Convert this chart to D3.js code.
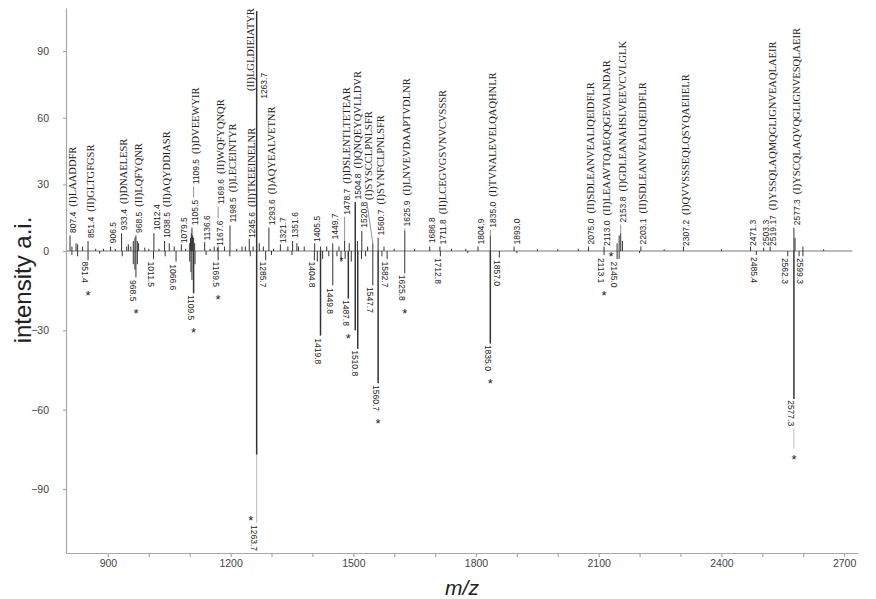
<!DOCTYPE html>
<html>
<head>
<meta charset="utf-8">
<script src="https://cdn.jsdelivr.net/npm/d3@7"></script>
<style>
  body { margin: 0; background: #fff; }
  svg { display: block; }
</style>
</head>
<body>
<svg id="canvas" width="876" height="599"></svg>
<script>
// upper trace (positive intensities)
const posMz  = [807.4, 812, 822, 826, 838, 851.4, 870, 889, 906.5, 918, 933.4, 946, 950, 956, 962, 966, 968.5, 972, 975, 990, 1000, 1012.4, 1025, 1038.5, 1050, 1062, 1079.5, 1090, 1100, 1102, 1104, 1105.5, 1107, 1109.5, 1112, 1136.6, 1150, 1160, 1167.6, 1169.6, 1185, 1198.5, 1215, 1228, 1236, 1245.6, 1255, 1263.7, 1270, 1280, 1293.6, 1305, 1321.7, 1340, 1351.6, 1362, 1366, 1380, 1405.5, 1420, 1435, 1449.7, 1465, 1478.7, 1490, 1504.8, 1510, 1520.8, 1535, 1547.7, 1560.7, 1575, 1600, 1625.9, 1650, 1686.8, 1711.8, 1740, 1775, 1804.9, 1835.0, 1893.0, 1950, 2000, 2050, 2075.0, 2113.0, 2145, 2150, 2153.8, 2158, 2203.1, 2260, 2307.2, 2400, 2471.3, 2503.3, 2519.17, 2577.3, 2580, 2599.3, 2650]
const posInt = [7, 2, 3.5, 3, 2, 4.5, 1, 1, 2, 1, 8, 2, 3, 2, 4.5, 6, 7, 4.5, 3.5, 1.5, 1, 8, 1, 4.5, 3.5, 2, 3, 1, 3.5, 6, 8, 10.5, 7, 6, 3.5, 4, 1, 2, 1.5, 2, 2, 11.5, 1, 2, 2, 5.5, 2, 108, 3.5, 2, 10.5, 1, 3, 2, 4.5, 3.5, 2, 2, 3.5, 2, 2, 3.5, 2, 4.5, 3.5, 22, 4.5, 9, 2, 3.5, 6, 2, 1, 9, 1, 2, 2, 1, 1, 2, 7, 2, 0.8, 0.8, 1, 2, 2, 3.5, 7, 8, 4.5, 2, 0.8, 2, 0.8, 2, 1.5, 2, 10.5, 6, 2, 0.8]

// lower trace (negative intensities)
const negMz  = [812, 826, 851.4, 880, 935, 962, 966, 968.5, 972, 1011.5, 1040, 1066.6, 1100, 1103, 1105.5, 1109.5, 1113, 1140, 1169.5, 1198, 1248, 1263.7, 1285.7, 1300, 1350, 1404.8, 1412, 1419.8, 1425, 1440, 1449.8, 1460, 1470, 1480, 1487.8, 1495, 1504.8, 1510.8, 1520, 1530, 1547.7, 1560.7, 1570, 1582.7, 1625.8, 1712.8, 1780, 1835.0, 1857.0, 1900, 2113.1, 2145.0, 2150, 2200, 2485.4, 2562.3, 2577.3, 2590, 2599.3]
const negInt = [-1.5, -2, -3.5, -1, -2, -5, -7, -10, -5, -3, -2, -4, -4, -8, -11, -16, -5, -1.5, -3.5, -2, -2, -77, -3.5, -1.5, -1.5, -3.5, -4, -32, -3, -2, -13, -2, -4, -3, -18, -4, -30, -37, -3, -2, -13, -50, -2, -3, -8.5, -2, -0.8, -35, -2.5, -0.8, -1.5, -3, -3, -0.8, -1.5, -2, -56, -2, -2]

// peptide annotations on the upper trace
const topLabelMz = [807.4, 851.4, 906.5, 933.4, 968.5, 1012.4, 1038.5, 1079.5, 1105.5, 1109.5, 1136.6, 1167.6, 1169.6, 1198.5, 1245.6, 1263.7, 1293.6, 1321.7, 1351.6, 1405.5, 1449.7, 1478.7, 1504.8, 1520.8, 1547.7, 1560.7, 1625.9, 1686.8, 1711.8, 1804.9, 1835.0, 1893.0, 2075.0, 2113.0, 2153.8, 2203.1, 2307.2, 2471.3, 2503.3, 2519.17, 2577.3]
const topLabelNum = ['807.4', '851.4', '906.5', '933.4', '968.5', '1012.4', '1038.5', '1079.5', '1105.5', '1109.5', '1136.6', '1167.6', '1169.6', '1198.5', '1245.6', '1263.7', '1293.6', '1321.7', '1351.6', '1405.5', '1449.7', '1478.7', '1504.8', '1520.8', '', '1560.7', '1625.9', '1686.8', '1711.8', '1804.9', '1835.0', '1893.0', '2075.0', '2113.0', '2153.8', '2203.1', '2307.2', '2471.3', '2503.3', '2519.17', '2577.3']
const topLabelName = ['(I)LAADDFR', '(II)GLTGFGSR', '', '(I)DNAELESR', '(II)LQFYQNR', '', '(II)AQYDDIASR', '', '', '(I)DVEEWYIR', '', '', '(II)WQFYQNQR', '(I)LECEINTYR', '(II)TKEEINELNR', '(II)LGLDIEIATYR', '(I)AQYEALVETNR', '', '', '', '', '(I)DSLENTLTETEAR', '(I)QNQEYQVLLDVR', '', '(I)SYSCCLPNLSFR', '(I)SYNFCLPNLSFR', '(I)LNVEVDAAPTVDLNR', '', '(II)LCEGVGSVNVCVSSSR', '', '(I)TVNALEVELQAQHNLR', '', '(II)SDLEANVEALIQEIDFLR', '(II)LEAAVTQAEQQGEVALNDAR', '(I)GDLEANAHSLVEEVCVLGLK', '(II)SDLEANVEALIQEIDFLR', '(I)QVVSSSEQLQSYQAEIIELR', '', '', '(I)YSSQLAQMQGLIGNVEAQLAEIR', '(I)YSCQLAQVQGLIGNVESQLAEIR']

// annotations on the lower trace (star = marked peak)
const botLabelMz = [851.4, 968.5, 1011.5, 1066.6, 1109.5, 1169.5, 1263.7, 1285.7, 1404.8, 1419.8, 1449.8, 1476.0, 1487.8, 1510.8, 1547.7, 1560.7, 1582.7, 1625.8, 1712.8, 1835.0, 1857.0, 2113.1, 2145.0, 2485.4, 2562.3, 2577.3, 2599.3]
const botLabelNum = ['851.4', '968.5', '1011.5', '1066.6', '1109.5', '1169.5', '1263.7', '1285.7', '1404.8', '1419.8', '1449.8', '', '1487.8', '1510.8', '1547.7', '1560.7', '1582.7', '1625.8', '1712.8', '1835.0', '1857.0', '2113.1', '2145.0', '2485.4', '2562.3', '2577.3', '2599.3']
const botLabelStar = [1, 1, 0, 0, 1, 1, 1, 0, 0, 0, 0, 1, 1, 0, 0, 1, 0, 1, 0, 1, 0, 1, 1, 0, 0, 1, 0]

const xTicks = [900, 1200, 1500, 1800, 2100, 2400, 2700]
const yTicks = [-90, -60, -30, 0, 30, 60, 90]

// label placement (where each label starts, in intensity units)
const topLift = [8.1, 5.8, 3.5, 9.3, 8.1, 9.3, 5.8, 3.5, 11.6, 30, 4.7, 2.3, 21, 12.8, 5.8, 72, 11.6, 3.5, 5.8, 4.1, 5.2, 16.3, 23.2, 10.5, 23, 7, 11, 3.5, 2.9, 2.9, 10.5, 2.9, 2.9, 2.3, 12.8, 2.9, 2.3, 2.3, 2.3, 2.3, 11.6]
const topSpecial = { '1109.5': { chain: '1105.5' }, '1169.6': { chain: '1167.6' }, '1263.7': { split: true }, '1547.7': { dx: -6 } }
const botAt = [-4, -11, -4, -5, -16.6, -4, -103.6, -4, -4, -33, -14, -2.5, -18.5, -37.5, -13.6, -50.7, -4, -9, -2.6, -35.5, -3.4, -2.6, -4, -2.3, -2.6, -56.4, -2.6]
const botStarPos = { '1263.7': 'left', '2145.0': 'left', '2577.3': 'tail', '': 'small' }

const numFont = '"Liberation Sans", Arial, sans-serif'
const nameFont = '"Liberation Serif", "Times New Roman", serif'
const numSize = 8.5, nameSize = 10.5

let svg = d3.select('#canvas')

const x = d3.scaleLinear().domain([797.5, 2734]).range([66, 858])
// the two traces are drawn at slightly different vertical scales
const y = d3.scaleLinear().domain([-114.2, 0, 109.4]).range([553, 251, 8])

// axes
svg.append('g')
  .attr('transform', 'translate(0,553)')
  .call(d3.axisBottom(x).tickValues(d3.range(900, 2701, 100)).tickSize(4).tickSizeOuter(0)
    .tickFormat(d => xTicks.includes(d) ? d : ''))
svg.append('g')
  .attr('transform', 'translate(66,0)')
  .call(d3.axisLeft(y).tickValues(yTicks).tickSize(3).tickPadding(14).tickSizeOuter(0))
svg.selectAll('.domain, .tick line').attr('stroke', '#a8a8a8').attr('stroke-width', 1.2)
svg.selectAll('.tick text').attr('font-family', numFont).attr('font-size', 10.5).attr('fill', '#444')

svg.append('text')
  .attr('transform', 'translate(31,280) rotate(-90)')
  .attr('text-anchor', 'middle')
  .attr('font-family', numFont).attr('font-size', 24).attr('fill', '#222')
  .text('intensity a.i.')
svg.append('text')
  .attr('x', 462).attr('y', 595)
  .attr('text-anchor', 'middle')
  .attr('font-family', numFont).attr('font-size', 21).attr('font-style', 'italic').attr('fill', '#222')
  .text('m/z')

// spectrum
svg.append('line')
  .attr('x1', x(800)).attr('x2', x(2720)).attr('y1', y(0)).attr('y2', y(0))
  .attr('stroke', '#555').attr('stroke-width', 0.8)

let stems = svg.append('g').attr('stroke', '#333')
stems.selectAll('line.p').data(d3.zip(posMz, posInt)).join('line').attr('class', 'p')
  .attr('x1', d => x(d[0])).attr('x2', d => x(d[0]))
  .attr('y1', y(0)).attr('y2', d => y(d[1]))
  .attr('stroke-width', d => d[1] > 15 ? 1.5 : 1)
stems.selectAll('line.n').data(d3.zip(negMz, negInt)).join('line').attr('class', 'n')
  .attr('x1', d => x(d[0])).attr('x2', d => x(d[0]))
  .attr('y1', y(0)).attr('y2', d => y(d[1]))
  .attr('stroke-width', d => d[1] < -15 ? 1.5 : 1)

let labels = svg.append('g').attr('fill', '#222')
let leaders = svg.append('g').attr('stroke', '#777').attr('stroke-width', 0.8)

// rotated label: number (sans) then peptide (serif); returns its length
let vlabel = (px, py, rot, num, name) => {
  let t = labels.append('text')
    .attr('transform', `translate(${px},${py}) rotate(${rot})`)
    .attr('dy', '0.35em')
  if (num) t.append('tspan').attr('font-family', numFont).attr('font-size', numSize).text(num)
  if (name) t.append('tspan').attr('font-family', nameFont).attr('font-size', nameSize)
    .attr('dx', num ? 5 : 0).text(name)
  return t.node().getBBox().width
}
let star = (px, py, size) => {
  labels.append('text').attr('x', px).attr('y', py + size * 0.58)
    .attr('text-anchor', 'middle').attr('font-family', numFont).attr('font-size', size)
    .text('*')
}
let peakAt = (mzs, ints, mz) => {
  let i = mzs.indexOf(mz)
  return i < 0 ? 0 : ints[i]
}

let topEnd = {}
topLabelMz.forEach((mz, i) => {
  let key = topLabelNum[i] || mz.toFixed(1)
  let sp = topSpecial[key] || {}
  let px = x(mz)
  let top = y(peakAt(posMz, posInt, mz))
  let start = y(topLift[i])
  if (sp.split) {
    vlabel(px - 8, start, -90, '', topLabelName[i])
    vlabel(px + 5, y(68.5), -90, topLabelNum[i], '')
    return
  }
  let len = vlabel(px + (sp.dx || 0), start, -90, topLabelNum[i], topLabelName[i])
  topEnd[key] = start - len
  if (sp.chain) {
    leaders.append('line').attr('x1', px).attr('x2', px)
      .attr('y1', topEnd[sp.chain] - 2).attr('y2', start + 2)
  } else if (top - start > 4) {
    leaders.append('line').attr('x1', px).attr('x2', px + (sp.dx || 0))
      .attr('y1', top).attr('y2', start + 2)
  }
})

botLabelMz.forEach((mz, i) => {
  let num = botLabelNum[i]
  let pos = botStarPos[num] || 'after'
  let px = x(mz)
  let bottom = y(peakAt(negMz, negInt, mz))
  let start = y(botAt[i])
  if (pos === 'small') {
    star(px - 2, start + 2, 10)
    return
  }
  let len = vlabel(px, start, 90, num, '')
  if (start - bottom > 4) {
    leaders.append('line').attr('x1', px).attr('x2', px)
      .attr('y1', bottom).attr('y2', start - 2).attr('stroke', '#aaa')
  }
  if (!botLabelStar[i]) return
  if (pos === 'left') {
    star(px - 6, start - 8, 13)
  } else if (pos === 'tail') {
    leaders.append('line').attr('x1', px).attr('x2', px)
      .attr('y1', start + len + 2).attr('y2', start + len + 22).attr('stroke', '#aaa')
    star(px, start + len + 30, 13)
  } else {
    star(px, start + len + 9, 13)
  }
})
</script>
</body>
</html>
